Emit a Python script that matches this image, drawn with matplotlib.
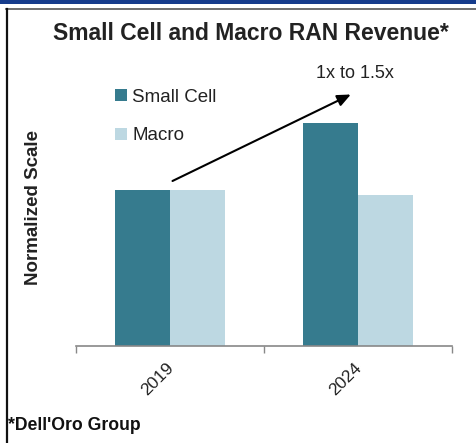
import matplotlib
matplotlib.use("Agg")
import matplotlib.pyplot as plt
from matplotlib.patches import Rectangle, Patch
from matplotlib.lines import Line2D
import numpy as np

plt.rcParams['font.family'] = ['Liberation Sans', 'DejaVu Sans']

years = ["2019", "2024"]
small_cell = [1.0, 1.43]
macro = [1.0, 0.97]
series_names = ["Small Cell", "Macro"]
colors = ["#367b8e", "#bdd8e2"]

W, H = 476, 443
fig = plt.figure(figsize=(W / 100, H / 100), dpi=100)
fig.patch.set_facecolor("white")

# frame decorations
fig.patches.append(Rectangle((0, 1 - 4 / H), 1, 4 / H, transform=fig.transFigure,
                             facecolor="#163c8c", edgecolor="none"))
fig.lines.append(Line2D([6 / W, 1], [1 - 9 / H, 1 - 9 / H], transform=fig.transFigure,
                        color="#555555", lw=1.2))
fig.lines.append(Line2D([6.5 / W, 6.5 / W], [0, 1 - 9 / H], transform=fig.transFigure,
                        color="#111111", lw=1.6))

ax = fig.add_axes([76 / W, (H - 346) / H, (452 - 76) / W, 288.6 / H])
x = np.arange(len(years))
bw = 0.29
ax.bar(x - bw / 2, small_cell, bw, color=colors[0], label=series_names[0])
ax.bar(x + bw / 2, macro, bw, color=colors[1], label=series_names[1])

ax.set_xlim(-0.5, len(years) - 0.5)
ax.set_ylim(0, 1.85)
for s in ["top", "right", "left"]:
    ax.spines[s].set_visible(False)
ax.spines["bottom"].set_color("#888888")
ax.spines["bottom"].set_linewidth(1.2)
ax.set_yticks([])
ax.set_xticks(np.arange(-0.5, len(years)), minor=False)
ax.set_xticklabels([])
ax.tick_params(axis="x", direction="out", length=5, color="#888888", width=1)
for xi, lab in zip(x, years):
    ax.text(xi - 0.02, -0.09, lab, rotation=45, ha="right", va="top", rotation_mode="anchor",
            fontsize=12.5, color="#222222", transform=ax.transData)

ax.set_ylabel("Normalized Scale", fontsize=13.5, fontweight="bold", color="#222222")
ax.yaxis.set_label_coords(-0.09, 0.48)

ax.annotate("", xy=(0.975, 1.62), xytext=(0.0, 1.05),
            arrowprops=dict(arrowstyle="-|>,head_length=0.8,head_width=0.35", color="black", lw=1.5))
ax.text(0.985, 1.745, "1x to 1.5x", ha="center", va="center", fontsize=13, color="#222222")

handles = [Patch(facecolor=c, edgecolor="none") for c in colors]
leg = ax.legend(handles, series_names, loc="upper left", bbox_to_anchor=(0.06, 0.95),
                frameon=False, fontsize=13.5, handlelength=0.6, handleheight=0.6,
                handletextpad=0.3, labelspacing=1.15, labelcolor="#222222")

fig.text(251 / W, 1 - 34 / H, "Small Cell and Macro RAN Revenue*", ha="center", va="center",
         fontsize=16.5, fontweight="bold", color="#222222")
fig.text(8 / W, 1 - 426 / H, "*Dell'Oro Group", ha="left", va="center",
         fontsize=12.7, fontweight="bold", color="#111111")

fig.savefig("out.png", dpi=100)
